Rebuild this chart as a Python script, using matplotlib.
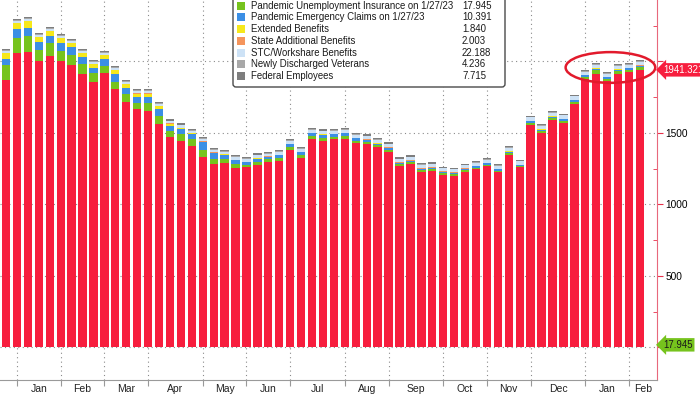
import matplotlib
matplotlib.use("Agg")
import matplotlib.pyplot as plt
from matplotlib.patches import Ellipse, Rectangle, FancyBboxPatch
import numpy as np
import pandas as pd

plt.rcParams['font.family'] = ['Liberation Sans', 'DejaVu Sans']

# weekly continuing claims, thousands
week_dates = pd.date_range('2021-12-31', periods=59, freq='7D')

state_regular = [1867, 2056, 2063, 2000, 2035, 2000, 1972, 1909, 1853, 1916, 1804, 1720,
                 1671, 1657, 1566, 1469, 1441, 1406, 1329, 1280, 1287, 1255, 1259, 1273,
                 1294, 1301, 1378, 1322, 1455, 1441, 1455, 1455, 1427, 1420, 1399, 1364,
                 1266, 1280, 1224, 1231, 1203, 1196, 1224, 1245, 1266, 1224, 1343, 1259,
                 1559, 1503, 1594, 1573, 1706, 1874, 1909, 1860, 1909, 1923, 1941.321]
pua = [105, 105, 112, 77, 91, 70, 70, 70, 63, 49, 49, 49,
       42, 56, 56, 42, 49, 49, 49, 35, 30, 28, 20, 25,
       22, 25, 25, 25, 22, 25, 20, 22, 20, 18, 15, 18,
       15, 15, 15, 15, 14, 14, 14, 12, 12, 12, 15, 10,
       14, 12, 12, 14, 14, 18, 28, 18, 22, 18, 17.945]
peuc = [42, 63, 56, 56, 49, 56, 56, 49, 35, 49, 56, 42,
        42, 42, 49, 35, 35, 35, 56, 42, 30, 25, 15, 22,
        15, 17, 17, 17, 20, 22, 15, 20, 17, 14, 12, 14,
        10, 10, 10, 10, 10, 10, 10, 10, 10, 10, 12, 6,
        10, 8, 8, 10, 10, 10, 12, 10, 12, 10, 10.391]
extended = [42, 42, 49, 35, 35, 35, 30, 28, 28, 30, 28, 28,
            20, 20, 15, 18, 10, 8, 5, 4, 3, 3, 2, 2,
            2, 2, 2, 2, 2, 2, 2, 2, 2, 2, 2, 2,
            2, 2, 2, 2, 2, 2, 2, 2, 2, 2, 2, 2,
            2, 2, 2, 2, 2, 2, 2, 2, 2, 2, 1.840]
state_additional = [4, 4, 4, 4, 4, 3, 3, 3, 3, 3, 3, 3,
                    3, 3, 3, 3, 3, 3, 3, 3, 3, 3, 3, 3,
                    3, 3, 3, 3, 3, 2, 2, 2, 2, 2, 2, 2,
                    2, 2, 2, 2, 2, 2, 2, 2, 2, 2, 2, 2,
                    2, 2, 2, 2, 2, 2, 2, 2, 2, 2, 2.003]
stc_workshare = [12, 14, 12, 13, 14, 13, 13, 14, 13, 13, 12, 12,
                 13, 13, 14, 14, 15, 15, 16, 16, 17, 17, 18, 18,
                 19, 19, 19, 20, 20, 20, 21, 21, 21, 21, 21, 21,
                 21, 21, 22, 22, 22, 22, 22, 22, 22, 22, 22, 22,
                 22, 22, 22, 22, 22, 22, 22, 22, 22, 22, 22.188]
veterans = [6, 6, 6, 6, 6, 6, 6, 6, 6, 6, 6, 6,
            6, 6, 6, 5, 5, 5, 5, 5, 5, 5, 5, 5,
            5, 5, 5, 5, 5, 5, 5, 5, 5, 5, 5, 5,
            5, 5, 5, 4, 4, 4, 4, 4, 4, 4, 4, 4,
            4, 4, 4, 4, 4, 4, 4, 4, 4, 4, 4.236]
federal = [10, 10, 10, 10, 10, 10, 10, 10, 10, 10, 10, 10,
           10, 10, 9, 9, 9, 9, 9, 9, 9, 9, 9, 9,
           9, 9, 9, 9, 9, 9, 8, 8, 8, 8, 8, 8,
           8, 8, 8, 8, 8, 8, 8, 8, 8, 8, 8, 8,
           8, 8, 8, 8, 8, 8, 8, 8, 8, 8, 7.715]

series = [pua, peuc, extended, state_additional, stc_workshare, veterans, federal]
names = ['Pandemic Unemployment Insurance on 1/27/23',
         'Pandemic Emergency Claims on 1/27/23',
         'Extended Benefits',
         'State Additional Benefits',
         'STC/Workshare Benefits',
         'Newly Discharged Veterans',
         'Federal Employees']
red = '#f71e3e'
colors = ['#76c31d', '#3b8fe5', '#f6e81b', '#f5955c', '#cde2f6', '#a8a8a8', '#7e7e7e']

fig = plt.figure(figsize=(7, 3.94), dpi=100)
ax = fig.add_axes([0, 14 / 394, 657 / 700, 380 / 394])

x = np.arange(len(week_dates))
ax.bar(x, state_regular, width=0.76, color=red, linewidth=0, zorder=3)
bottom = np.array(state_regular, dtype=float)
for vals, col in zip(series, colors):
    ax.bar(x, vals, width=0.76, bottom=bottom, color=col, linewidth=0, zorder=3)
    bottom += np.array(vals)

ax.set_xlim(-0.55, 59.56)
ax.set_ylim(-228, 2430)

# month boundaries at the first week of each month
months = week_dates.to_period('M')
starts = [i for i in range(1, len(x)) if months[i] != months[i - 1]]
ends = starts[1:] + [ax.get_xlim()[1]]
mids = [(a + b) / 2 for a, b in zip(starts, ends)]
ax.set_xticks(starts)
ax.set_xticklabels([])
ax.set_xticks(mids, minor=True)
ax.set_xticklabels([week_dates[i].strftime('%b') for i in starts], minor=True)
ax.tick_params(axis='x', which='major', length=4, color='#999999', direction='out')
ax.tick_params(axis='x', which='minor', length=0, labelsize=7.5, pad=3, labelcolor='#222222')

ax.yaxis.tick_right()
ax.set_yticks([0, 500, 1000, 1500, 2000])
ax.set_yticklabels(['', '500', '1000', '1500', ''])
ax.set_yticks([250, 750, 1250, 1750, 2250], minor=True)
ax.tick_params(axis='y', which='major', length=4, color='#e8304a', direction='out',
               labelsize=7.3, pad=2)
ax.tick_params(axis='y', which='minor', length=3, color='#e8304a', direction='in')

ax.grid(True, which='major', linestyle=(0, (1, 3)), color='#8a8a8a', linewidth=0.8, zorder=0)
for s in ['top', 'left']:
    ax.spines[s].set_visible(False)
ax.spines['bottom'].set_color('#9a9a9a')
ax.spines['right'].set_color('#e8687c')
ax.spines['right'].set_linewidth(0.8)

# last-value tags
ax.annotate(f'{state_regular[-1]:.3f}', xy=(1, state_regular[-1]),
            xycoords=('axes fraction', 'data'), xytext=(4.5, 0), textcoords='offset points',
            va='center', ha='left', color='white', fontsize=6.9, annotation_clip=False,
            bbox=dict(boxstyle='larrow,pad=0.18', fc=red, ec='none'))
ax.annotate(f'{pua[-1]:.3f}', xy=(1, pua[-1]),
            xycoords=('axes fraction', 'data'), xytext=(4.5, 0), textcoords='offset points',
            va='center', ha='left', color='#1a1a1a', fontsize=6.9, annotation_clip=False,
            bbox=dict(boxstyle='larrow,pad=0.18', fc='#76c31d', ec='none'))

ax.add_patch(Ellipse((55.3, 1958), width=8.2, height=215, fill=False,
                     edgecolor='#e21a2c', linewidth=1.8, zorder=5, clip_on=False))

# legend panel (its top runs off the picture), drawn in pixel space
lax = fig.add_axes([0, 0, 1, 1])
lax.set_xlim(0, 700)
lax.set_ylim(394, 0)
lax.axis('off')
lax.add_patch(FancyBboxPatch((233, -30), 272, 117, boxstyle='round,pad=0,rounding_size=3',
                             fc='white', ec='#4a4a4a', lw=1))
for k, (name, col, vals) in enumerate(zip(names, colors, series)):
    y = 5.7 + 11.7 * k
    lax.add_patch(Rectangle((237, y - 4), 8, 8, fc=col, ec='none'))
    lax.text(251, y, name, va='center', ha='left', fontsize=6.95, color='#1a1a1a')
    lax.text(462, y, f'{vals[-1]:.3f}', va='center', ha='left', fontsize=6.95, color='#1a1a1a')

fig.savefig('out.png', dpi=100)
